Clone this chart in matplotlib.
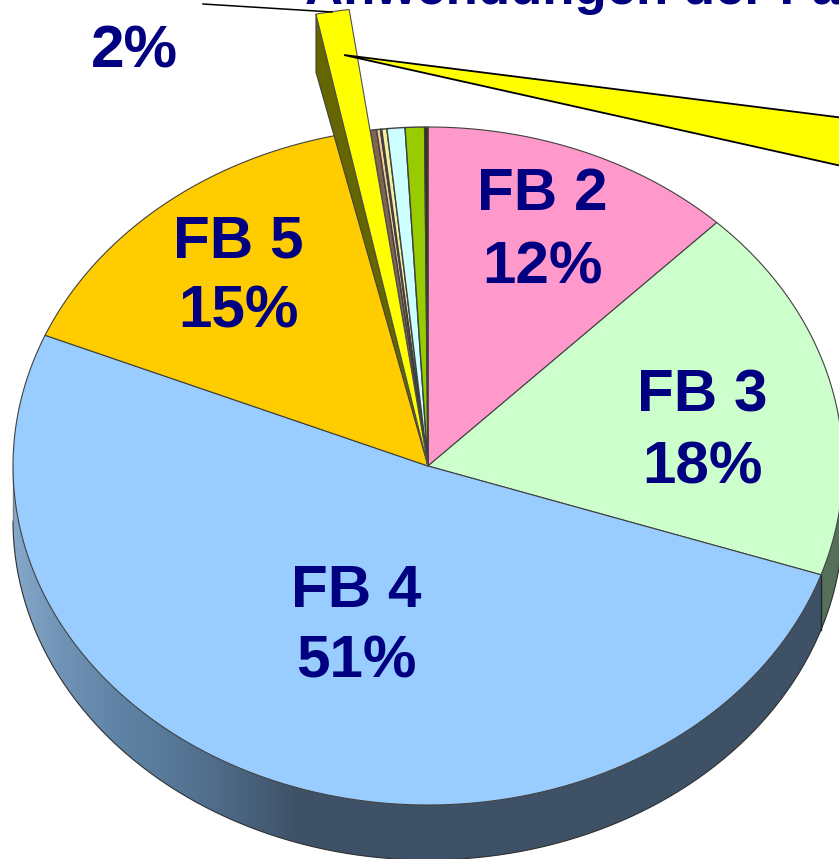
import numpy as np
import matplotlib

matplotlib.use("Agg")
import matplotlib.pyplot as plt
from matplotlib.colors import to_rgb
from matplotlib.patches import Polygon

# slices clockwise from 12 o'clock, in percent
slice_names = ["FB 2", "FB 3", "FB 4", "FB 5", "FB 1", "a", "b", "c", "d", "e", "f", "g"]
slice_values = [12.25, 17.95, 51.1, 15.52, 0.95, 0.25, 0.15, 0.05, 0.20, 0.70, 0.75, 0.13]
slice_colors = ["#ff99cc", "#ccffcc", "#99ccff", "#ffcc00", "#ffff00", "#806650", "#f5c89a",
                "#806650", "#f5f0a0", "#ccffff", "#99cc00", "#333300"]

label_names = ["FB 2", "FB 3", "FB 4", "FB 5"]
label_percents = ["12%", "18%", "51%", "15%"]
title_text = "Anwendungen der Fa"
pulled_percent = "2%"

NAVY = "#000080"
CX, CY, RX, RY, DEPTH = 428, 466, 415, 339, 55
PULL = 1.36
EM = 43.4

plt.rcParams["font.family"] = ["Liberation Sans", "DejaVu Sans"]

fig = plt.figure(figsize=(8.39, 8.59), dpi=100)
ax = fig.add_axes([0, 0, 1, 1])


def ell(t, scale=1.0, dy=0.0):
    return CX + RX * scale * np.sin(t), CY - RY * scale * np.cos(t) + dy


def wedge(t0, t1, scale=1.0):
    t = np.linspace(t0, t1, 200)
    x, y = ell(t, scale)
    return np.column_stack([np.r_[CX, x], np.r_[CY, y]])


edges = np.r_[0, np.cumsum(slice_values)] / 100 * 2 * np.pi
fb4_start = edges[2]


# side wall: horizontal gradient image clipped to the band under the rim
def wall(t0, t1, stops, colors):
    t = np.linspace(t0, t1, 300)
    x0, y0 = ell(t)
    x1, y1 = ell(t, dy=DEPTH)
    band = np.column_stack([np.r_[x0, x1[::-1]], np.r_[y0, y1[::-1]]])
    xs = np.linspace(0, 860, 861)
    rgb = np.array([to_rgb(c) for c in colors])
    img = np.stack([np.interp(xs, stops, rgb[:, k]) for k in range(3)], axis=-1)[None, :, :]
    im = ax.imshow(img, extent=(0, 860, 900, 0), aspect="auto", zorder=1)
    im.set_clip_path(Polygon(band, transform=ax.transData))
    ax.plot(x1, y1, color="#303030", lw=0.8, zorder=1.5)


wall(fb4_start, np.pi * 1.5,
     [13, 60, 120, 200, 300, 860],
     ["#86a9cb", "#7093b6", "#5f83a5", "#527190", "#3e5166", "#3e5166"])
wall(np.pi / 2, fb4_start, [0, 860], ["#56705a", "#56705a"])
x3, y3 = ell(fb4_start)
ax.plot([x3, x3], [y3, y3 + DEPTH], color="#202830", lw=1, zorder=2)
ax.plot([CX - RX, CX - RX], [CY, CY + DEPTH], color="#808080", lw=1, zorder=2)

# top faces
pulled = slice_names.index("FB 1")
for i, col in enumerate(slice_colors):
    if i != pulled:
        ax.fill(*wedge(edges[i], edges[i + 1]).T, fc=col, ec="#404040", lw=1.0 if i > pulled else 0.8, zorder=3)

# pulled out sliver with its dark side
tx, ty = ell(edges[pulled], PULL)
ax.fill([tx, tx, CX], [ty, ty + DEPTH + 3, CY], fc="#666600", ec="#404040", lw=0.8, zorder=4)
ax.fill(*wedge(edges[pulled], edges[pulled + 1], PULL).T, fc=slice_colors[pulled], ec="#505050", lw=0.8, zorder=5)

# callout from the sliver, runs off the right edge
ax.fill([344, 900, 900], [55, 125, 179], fc="#ffff00", ec="black", lw=1.3, zorder=6)
ax.plot([203, 332], [4, 12], color="black", lw=1.1, zorder=6)

label_xy = [(542, 210), (702, 411), (356, 607), (238, 258)]
percent_xy = [(543, 283), (703, 484), (356, 678), (238, 328)]
for name, pct, (lx, ly), (px, py) in zip(label_names, label_percents, label_xy, percent_xy):
    ax.text(lx, ly, name, color=NAVY, fontsize=EM, fontweight="bold", ha="center", va="baseline", zorder=7)
    ax.text(px, py, pct, color=NAVY, fontsize=EM, fontweight="bold", ha="center", va="baseline", zorder=7)

ax.text(134, 68, pulled_percent, color=NAVY, fontsize=EM, fontweight="bold", ha="center", va="baseline", zorder=7)
ax.text(305, 4, title_text, color=NAVY, fontsize=38, fontweight="bold", ha="left", va="baseline", zorder=7, clip_on=True)

ax.set_xlim(0, 839)
ax.set_ylim(859, 0)
ax.axis("off")

fig.savefig("out.png", dpi=100, facecolor="white")
